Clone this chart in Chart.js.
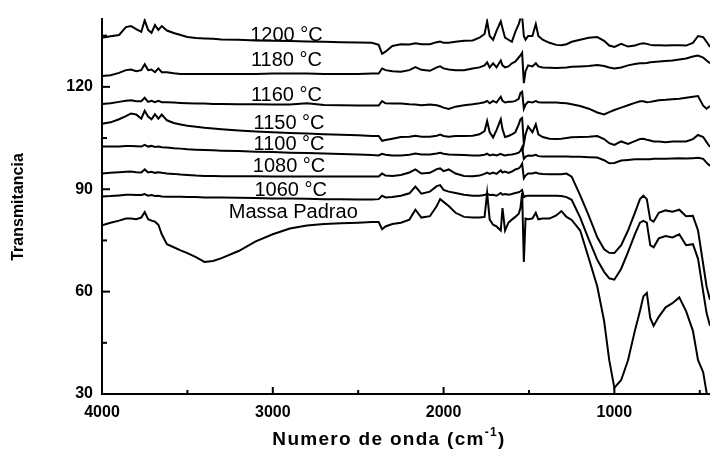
<!DOCTYPE html>
<html>
<head>
<meta charset="utf-8">
<script src="https://cdn.jsdelivr.net/npm/chart.js@4/dist/chart.umd.min.js"></script>
<style>
  body { margin: 0; background: #fff; }
  #wrap { width: 710px; height: 450px; }
</style>
</head>
<body>
<div id="wrap"><canvas id="ftir"></canvas></div>
<script>
// wavenumber grid (cm-1), shared by all spectra
const wavenumbers = [4000,3950,3900,3860,3830,3800,3770,3750,3730,3710,3690,3670,3650,3620,3580,3540,3500,3450,3400,3350,
  3300,3200,3100,3000,2900,2800,2700,2600,2500,2420,2380,2360,2340,2300,2250,2200,2165,2130,2080,2040,
  2020,2000,1970,1930,1880,1830,1790,1760,1745,1730,1710,1690,1665,1655,1640,1620,1600,1580,1560,1550,
  1540,1530,1520,1505,1480,1460,1445,1420,1380,1340,1310,1280,1250,1200,1150,1100,1060,1030,1000,960,
  920,880,850,830,810,790,770,740,700,660,620,580,540,510,480,460,440];

const t1200 = [134.4,134.8,135.2,137.5,137.8,136.9,136.1,139.5,136.7,135.8,
  138.1,136.7,137.8,136.5,135.8,135.2,134.6,134.3,134.2,134.1,
  133.9,133.8,133.6,133.5,133.4,133.3,133.2,133.1,133.0,132.9,
  132.3,129.7,130.3,132.0,132.5,132.4,132.8,132.5,132.5,133.1,
  133.3,132.9,132.9,133.2,133.5,133.6,134.4,135.5,139.2,134.9,
  133.8,136.4,139.2,137.2,134.4,133.8,133.2,136.1,138.4,140.1,
  140.7,134.9,133.8,134.9,134.9,138.4,134.9,133.8,132.9,132.3,
  132.2,132.5,133.2,133.8,134.4,134.6,133.5,132.1,131.7,132.6,
  131.8,132.1,132.6,132.8,132.6,132.3,132.2,132.2,132.1,132.2,
  132.2,132.1,132.9,134.9,134.6,133.2,131.7];

const t1180 = [123.2,123.4,124.1,124.9,125.1,124.6,124.9,126.6,124.9,125.1,
  124.3,125.4,124.3,124.3,124.0,123.8,123.8,123.8,123.8,123.8,
  123.8,123.8,123.8,123.9,123.9,123.9,123.8,123.8,123.8,123.9,
  123.9,125.4,124.9,124.6,124.4,124.9,125.8,125.0,124.7,125.7,
  126.0,125.4,125.1,124.9,124.9,125.4,125.7,126.3,127.2,125.7,
  126.9,125.7,127.7,126.3,125.7,126.0,126.9,127.4,128.6,129.2,
  130.0,121.1,124.6,126.3,126.0,126.9,126.0,125.7,125.6,125.5,
  125.6,125.7,125.9,126.0,126.1,126.4,126.1,125.7,125.4,125.7,
  126.3,126.7,126.9,126.9,127.0,127.2,127.3,127.4,127.6,127.7,
  128.0,128.3,128.9,129.2,128.6,127.7,126.9];

const t1160 = [115.0,115.2,115.6,115.9,116.1,115.8,115.8,116.8,115.6,115.9,
  115.5,115.9,115.5,115.5,115.4,115.3,115.2,115.1,115.1,115.0,
  115.0,114.9,114.9,114.8,114.8,115.2,114.7,114.6,114.5,114.5,
  114.5,115.8,115.2,115.1,115.1,114.9,114.8,114.6,114.8,114.6,
  114.3,113.9,113.5,114.2,114.6,114.9,115.2,115.5,115.9,115.2,
  115.9,115.4,117.1,115.9,115.4,115.6,115.6,115.9,116.5,118.2,
  118.6,113.6,114.8,115.6,115.4,115.8,115.5,115.4,115.4,115.4,
  115.3,115.2,114.9,114.4,113.6,112.5,111.9,112.6,113.2,113.9,
  114.6,115.3,115.8,115.8,115.5,115.6,115.8,116.1,116.2,116.4,
  116.5,116.8,117.1,117.3,114.5,113.6,114.4];

const t1150 = [109.2,109.6,110.5,111.4,112.2,111.9,110.7,113.0,111.3,110.5,
  112.0,110.7,111.9,110.2,109.4,109.0,108.6,108.3,108.0,107.8,
  107.6,107.2,106.9,106.7,106.5,106.3,106.1,106.0,105.8,105.6,
  105.6,104.2,104.4,104.8,105.3,105.4,105.7,105.4,105.4,105.7,
  106.0,105.6,105.4,105.6,105.6,105.7,106.1,107.0,110.0,106.7,
  105.2,107.3,110.5,107.6,105.3,105.6,106.1,106.7,109.0,110.5,
  110.9,103.3,106.1,108.4,106.7,109.0,106.1,105.3,104.8,104.7,
  104.8,105.0,105.2,105.3,105.4,105.6,104.7,103.5,103.0,104.0,
  103.3,104.1,104.7,104.8,104.5,104.3,104.0,104.0,103.8,104.0,
  104.0,104.0,104.7,105.9,105.3,103.8,102.4];

const t1100 = [102.5,102.5,102.5,102.7,102.7,102.6,102.5,103.0,102.5,102.7,
  102.4,102.5,102.3,102.2,102.0,101.9,101.7,101.6,101.5,101.4,
  101.3,101.2,101.0,100.9,100.7,100.6,100.5,100.3,100.2,100.0,
  99.9,100.4,100.1,99.9,99.9,100.1,100.5,100.2,100.2,100.5,
  100.7,100.4,100.2,100.1,100.0,99.9,99.9,100.1,100.4,99.9,
  100.2,99.9,100.4,100.1,99.9,100.1,100.2,100.4,100.7,101.2,
  102.3,98.9,99.5,99.9,99.8,100.1,99.7,99.6,99.6,99.6,
  99.6,99.6,99.5,99.5,99.4,99.3,98.5,97.6,97.7,98.4,
  98.6,98.8,98.8,98.8,98.8,98.8,98.9,98.9,98.9,99.0,
  99.1,99.0,99.1,99.2,98.9,97.8,96.8];

const t1080 = [94.6,94.8,95.0,95.1,95.2,95.0,94.9,95.8,94.9,95.1,
  94.8,95.0,94.8,94.6,94.5,94.3,94.2,94.0,93.9,93.9,
  93.8,93.8,93.8,93.7,93.7,93.7,93.7,93.7,93.7,93.7,
  93.7,94.6,94.0,93.9,94.2,94.9,95.8,94.6,94.8,95.9,
  96.1,95.3,95.8,94.6,93.9,93.8,94.0,94.5,94.9,94.5,
  94.9,94.5,95.5,94.9,95.2,94.8,95.2,95.8,96.1,96.6,
  97.5,93.2,94.0,94.6,94.6,94.9,94.6,94.5,94.4,94.4,
  94.4,94.6,93.7,88.2,82.3,75.9,72.4,71.4,71.3,73.6,
  77.9,83.1,87.1,88.1,87.1,81.1,80.5,83.1,83.8,83.4,
  84.0,82.1,82.2,77.9,68.1,61.5,57.6];

const t1060 = [87.9,88.0,88.2,88.4,88.4,88.3,88.3,88.6,88.1,88.3,
  88.0,88.1,87.9,87.8,87.8,87.8,87.7,87.7,87.6,87.6,
  87.6,87.5,87.4,87.3,87.3,87.2,87.1,87.1,87.0,87.0,
  87.1,88.1,87.6,87.7,88.1,88.8,90.8,88.7,89.3,90.9,
  91.2,89.8,89.3,88.9,88.4,88.1,88.1,88.3,88.7,88.3,
  88.4,88.1,88.9,88.4,88.6,88.4,88.6,88.9,89.1,89.4,
  89.8,87.7,88.0,88.1,88.1,88.1,88.1,88.1,88.1,88.1,
  88.0,87.7,86.9,81.7,75.3,69.3,65.8,63.9,63.5,66.7,
  71.6,76.8,80.2,80.7,80.2,73.6,73.0,75.6,76.3,75.9,
  76.8,73.6,73.9,69.6,60.0,53.7,50.0];

const tPadrao = [79.4,80.2,80.8,81.4,81.4,81.2,81.7,83.3,81.2,80.8,
  80.5,79.6,76.8,73.9,73.0,72.1,71.3,70.1,68.7,69.0,
  69.8,71.9,74.7,76.8,78.5,79.4,79.8,80.0,80.2,80.4,
  80.4,78.3,79.1,79.8,80.2,81.1,84.0,81.7,82.1,85.1,
  87.1,86.3,85.1,83.1,81.9,81.7,81.7,81.9,88.9,81.1,
  79.6,79.1,77.9,84.5,77.9,80.2,81.1,81.9,82.8,84.5,
  88.9,68.7,81.4,81.2,81.4,83.1,81.2,81.4,81.4,82.3,
  83.6,81.9,81.0,77.9,69.8,61.5,51.4,39.9,31.8,34.1,
  39.9,48.5,54.3,58.6,59.6,52.3,50.0,52.6,55.4,56.6,
  58.3,54.3,48.5,39.9,36.4,30.4,25.0];

const seriesNames = ["1200 °C","1180 °C","1160 °C","1150 °C","1100 °C","1080 °C","1060 °C","Massa Padrao"];
const seriesValues = [t1200, t1180, t1160, t1150, t1100, t1080, t1060, tPadrao];

// where each curve's name is written (wavenumber, transmittance of baseline)
const labelWn = [2920, 2920, 2920, 2905, 2905, 2905, 2895, 2880];
const labelT = [133.5, 126.1, 115.9, 107.6, 101.4, 95.0, 88.0, 81.7];

const xTickValues = [4000, 3000, 2000, 1000];
const xMinorValues = [3500, 2500, 1500, 500];
const yTickValues = [30, 60, 90, 120];
const yMinorValues = [45, 75, 105, 135];

const FONT = '"Liberation Sans", Arial, sans-serif';

const decorations = {
  id: 'decorations',
  afterDraw(chart) {
    const { ctx, chartArea: a, scales: { x, y } } = chart;
    ctx.save();
    ctx.strokeStyle = '#000';
    ctx.fillStyle = '#000';
    ctx.lineWidth = 2;

    // inward ticks
    const tickX = (v, len) => {
      const px = x.getPixelForValue(v);
      if (px < a.left - 1 || px > a.right + 1) return;
      ctx.beginPath(); ctx.moveTo(px, a.bottom); ctx.lineTo(px, a.bottom - len); ctx.stroke();
    };
    const tickY = (v, len) => {
      const py = y.getPixelForValue(v);
      ctx.beginPath(); ctx.moveTo(a.left, py); ctx.lineTo(a.left + len, py); ctx.stroke();
    };
    xTickValues.forEach(v => tickX(v, 7));
    xMinorValues.forEach(v => tickX(v, 4));
    yTickValues.forEach(v => tickY(v, 8));
    yMinorValues.forEach(v => tickY(v, 5));

    // curve names
    ctx.font = '20px ' + FONT;
    ctx.textAlign = 'center';
    ctx.textBaseline = 'alphabetic';
    seriesNames.forEach((name, i) => {
      ctx.fillText(name, x.getPixelForValue(labelWn[i]), y.getPixelForValue(labelT[i]));
    });

    // x title with superscript
    const main = 'Numero de onda (cm', sup = '-1', close = ')';
    ctx.textAlign = 'left';
    ctx.letterSpacing = '1.3px';
    ctx.font = 'bold 19px ' + FONT;
    const w1 = ctx.measureText(main).width, w3 = ctx.measureText(close).width;
    ctx.font = 'bold 12px ' + FONT;
    const w2 = ctx.measureText(sup).width;
    const tx = 389 - (w1 + w2 + w3) / 2;
    const base = 445;
    ctx.font = 'bold 19px ' + FONT;
    ctx.fillText(main, tx, base);
    ctx.font = 'bold 12px ' + FONT;
    ctx.fillText(sup, tx + w1, base - 9);
    ctx.font = 'bold 19px ' + FONT;
    ctx.fillText(close, tx + w1 + w2, base);
    ctx.letterSpacing = '0px';

    // y title
    ctx.translate(19, 207);
    ctx.rotate(-Math.PI / 2);
    ctx.textAlign = 'center';
    ctx.textBaseline = 'middle';
    ctx.font = 'bold 16px ' + FONT;
    ctx.fillText('Transmitancia', 0, 0);
    ctx.restore();
  }
};

new Chart(document.getElementById('ftir'), {
  type: 'line',
  data: {
    datasets: seriesValues.map((vals, i) => ({
      label: seriesNames[i],
      data: wavenumbers.map((w, j) => ({ x: w, y: vals[j] })),
      borderColor: '#000',
      borderWidth: 2,
      pointRadius: 0,
      tension: 0,
      fill: false
    }))
  },
  options: {
    responsive: true,
    maintainAspectRatio: false,
    animation: false,
    layout: { padding: { top: 12, left: 0, right: 0, bottom: 0 } },
    plugins: { legend: { display: false }, tooltip: { enabled: false } },
    scales: {
      x: {
        type: 'linear',
        reverse: true,
        min: 440,
        max: 4000,
        grid: { display: false, drawTicks: false },
        border: { display: true, color: '#000', width: 2 },
        afterBuildTicks: s => { s.ticks = xTickValues.map(value => ({ value })); },
        afterFit: s => { s.height = 56; },
        ticks: {
          autoSkip: false, maxRotation: 0, padding: 9, color: '#000',
          callback: v => String(v),
          font: { family: FONT, size: 16, weight: 'bold' }
        }
      },
      y: {
        min: 30,
        max: 140,
        grid: { display: false, drawTicks: false },
        border: { display: true, color: '#000', width: 2 },
        afterBuildTicks: s => { s.ticks = yTickValues.map(value => ({ value })); },
        afterFit: s => { s.width = 102; },
        ticks: {
          padding: 9, color: '#000',
          callback: v => String(v),
          font: { family: FONT, size: 16, weight: 'bold' }
        }
      }
    }
  },
  plugins: [decorations]
});
</script>
</body>
</html>
